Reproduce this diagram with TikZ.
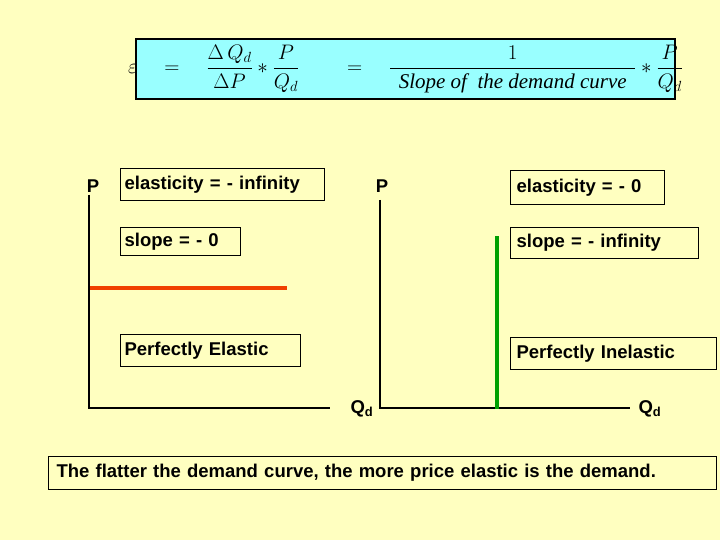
\documentclass[tikz,border=0pt]{standalone}
\usepackage{fix-cm}
\usepackage{amsmath}
\usepackage{fontspec}
\setmainfont{Liberation Sans}
\newfontfamily\tms{Liberation Serif}
\begin{document}
\begin{tikzpicture}[x=1pt,y=-1pt,
  lbl/.style={draw=black,line width=1.2pt,fill=bg,anchor=north west,inner sep=0pt,font=\fontsize{18.5}{21}\selectfont\bfseries,align=left},
  txt/.style={font=\fontsize{18.5}{21}\selectfont\bfseries},
  axis/.style={line width=1.2pt}]
\definecolor{bg}{RGB}{255,255,192}
\definecolor{cy}{RGB}{153,255,255}
\definecolor{rd}{RGB}{240,64,0}
\definecolor{gr}{RGB}{0,160,0}
\fill[bg] (0,0) rectangle (720,540);
\useasboundingbox (0,0) rectangle (720,540);
\node[draw=black,line width=2pt,fill=cy,minimum width=539pt,minimum height=60pt,anchor=north west,inner sep=0pt] (f) at (135,38) {};
\node at (f.center) {\fontsize{21}{24}\selectfont$\varepsilon\quad=\quad\dfrac{\Delta\, Q_d}{\Delta P}*\dfrac{P}{Q_d}\qquad=\quad\dfrac{1}{\hbox to 245pt{\hfil\tms\itshape Slope of\ \ the demand curve\hfil}}*\dfrac{P}{Q_d}$};
% left
\draw[axis] (89,195) coordinate (a1) -- (89,408) coordinate (o1) -- (330,408) coordinate (b1);
\node[txt] (p1) at (93,186) {P};
\node[txt] (q1) at (362,409) {Q\textsubscript{d}};
\node[lbl,minimum width=204pt,minimum height=32pt,text width=196pt,inner xsep=4pt] (e1) at (120,168) {elasticity = - infinity};
\node[lbl,minimum width=120pt,minimum height=28pt,text width=112pt,inner xsep=4pt] (s1) at (120,227) {slope = - 0};
\node[lbl,minimum width=180pt,minimum height=32pt,text width=172pt,inner xsep=4pt] (pe) at (120,334) {Perfectly Elastic};
\coordinate (r1) at (90,288); \coordinate (r2) at (287,288);
\draw[rd,line width=4pt] (r1) -- (r2);
% right
\draw[axis] (380,200) coordinate (a2) -- (380,408) coordinate (o2) -- (630,408) coordinate (b2);
\node[txt] (p2) at (382,186) {P};
\node[txt] (q2) at (650,409) {Q\textsubscript{d}};
\coordinate (g1) at (497,236); \coordinate (g2) at (497,409);
\draw[gr,line width=4pt] (g1) -- (g2);
\node[lbl,minimum width=150pt,minimum height=34pt,text width=142pt,inner xsep=6pt] (e2) at (510,170) {elasticity = - 0};
\node[lbl,minimum width=186pt,minimum height=31pt,text width=176pt,inner xsep=6pt] (s2) at (510,227) {slope = - infinity};
\node[lbl,minimum width=204pt,minimum height=32pt,text width=194pt,inner xsep=6pt] (pi) at (510,337) {Perfectly Inelastic};
% bottom
\node[lbl,minimum width=660pt,minimum height=33pt,text width=652pt,inner xsep=8pt] (bt) at (48,456) {The flatter the demand curve, the more price elastic is the demand.};
\end{tikzpicture}
\end{document}
